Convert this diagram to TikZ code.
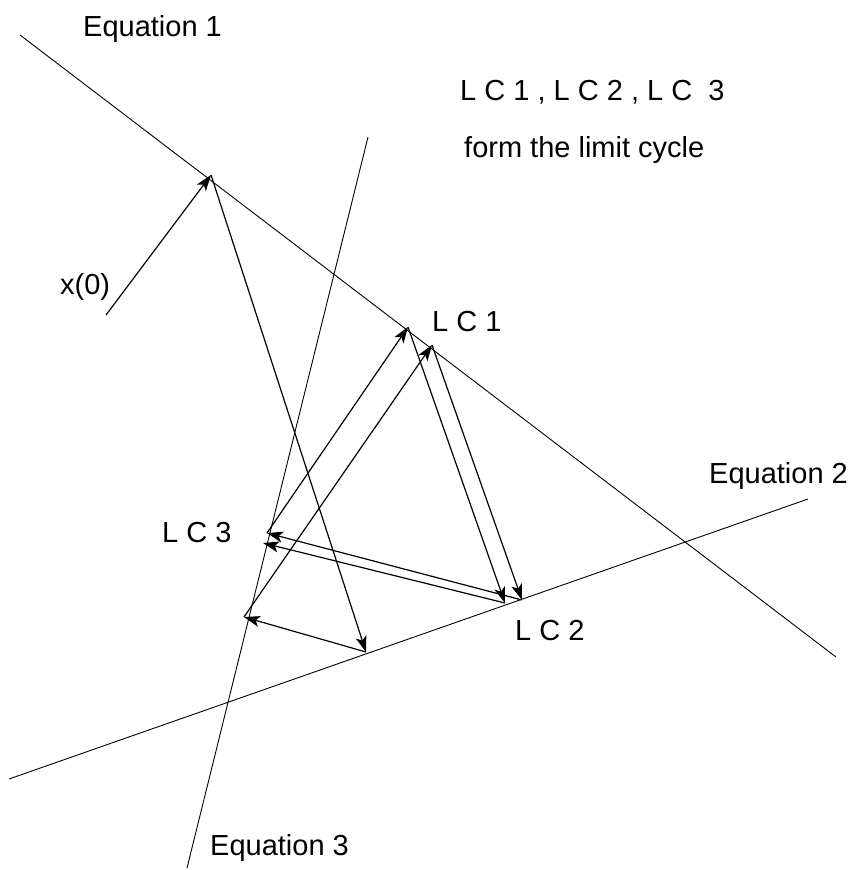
\documentclass[tikz,border=0pt]{standalone}
\usepackage{fontspec}
\setmainfont{Liberation Sans}
\usetikzlibrary{arrows.meta}

\begin{document}
\begin{tikzpicture}[x=1pt,y=-1pt,
        eqn/.style={line width=0.9pt},
        iter/.style={line width=1.2pt,-{Stealth[length=16pt,width=11pt,inset=4pt]}},
        txt/.style={anchor=base west,inner sep=0pt,font=\fontsize{29}{34}\selectfont}]
        \useasboundingbox (0,0) rectangle (851,870);
        \coordinate (E1s) at (20,35);
        \coordinate (E1e) at (836,657);
        \coordinate (E2s) at (9,779);
        \coordinate (E2e) at (808,499);
        \coordinate (E3s) at (368,137);
        \coordinate (E3e) at (187,868);
        \draw[eqn] (E1s) -- (E1e);
        \draw[eqn] (E2s) -- (E2e);
        \draw[eqn] (E3s) -- (E3e);
        \coordinate (X0) at (106,315);
        \coordinate (A1) at (211,175);
        \coordinate (B1) at (366,652);
        \coordinate (C1) at (244,617);
        \coordinate (A2) at (432,345);
        \coordinate (B2) at (522,600);
        \coordinate (C2) at (267,533);
        \coordinate (A3) at (408,327);
        \coordinate (B3) at (505,603);
        \coordinate (C3) at (263,543);
        \draw[iter] (X0) -- (A1);
        \draw[iter] (A1) -- (B1);
        \draw[iter] (B1) -- (C1);
        \draw[iter] (C1) -- (A2);
        \draw[iter] (A2) -- (B2);
        \draw[iter] (B2) -- (C2);
        \draw[iter] (C2) -- (A3);
        \draw[iter] (A3) -- (B3);
        \draw[iter] (B3) -- (C3);
        \node[txt] at (83,36) (eq1) {Equation 1};
        \node[txt] at (709,483) (eq2) {Equation 2};
        \node[txt] at (210,855) (eq3) {Equation 3};
        \node[txt] at (460,100) (lcs) {L C 1 , L C 2 , L C \ 3};
        \node[txt] at (464,157) (form) {form the limit cycle};
        \node[txt] at (60,294) (x0) {x(0)};
        \node[txt] at (432,331) (lc1) {L C 1};
        \node[txt] at (515,640) (lc2) {L C 2};
        \node[txt] at (162,542) (lc3) {L C 3};
    \end{tikzpicture}
\end{document}
